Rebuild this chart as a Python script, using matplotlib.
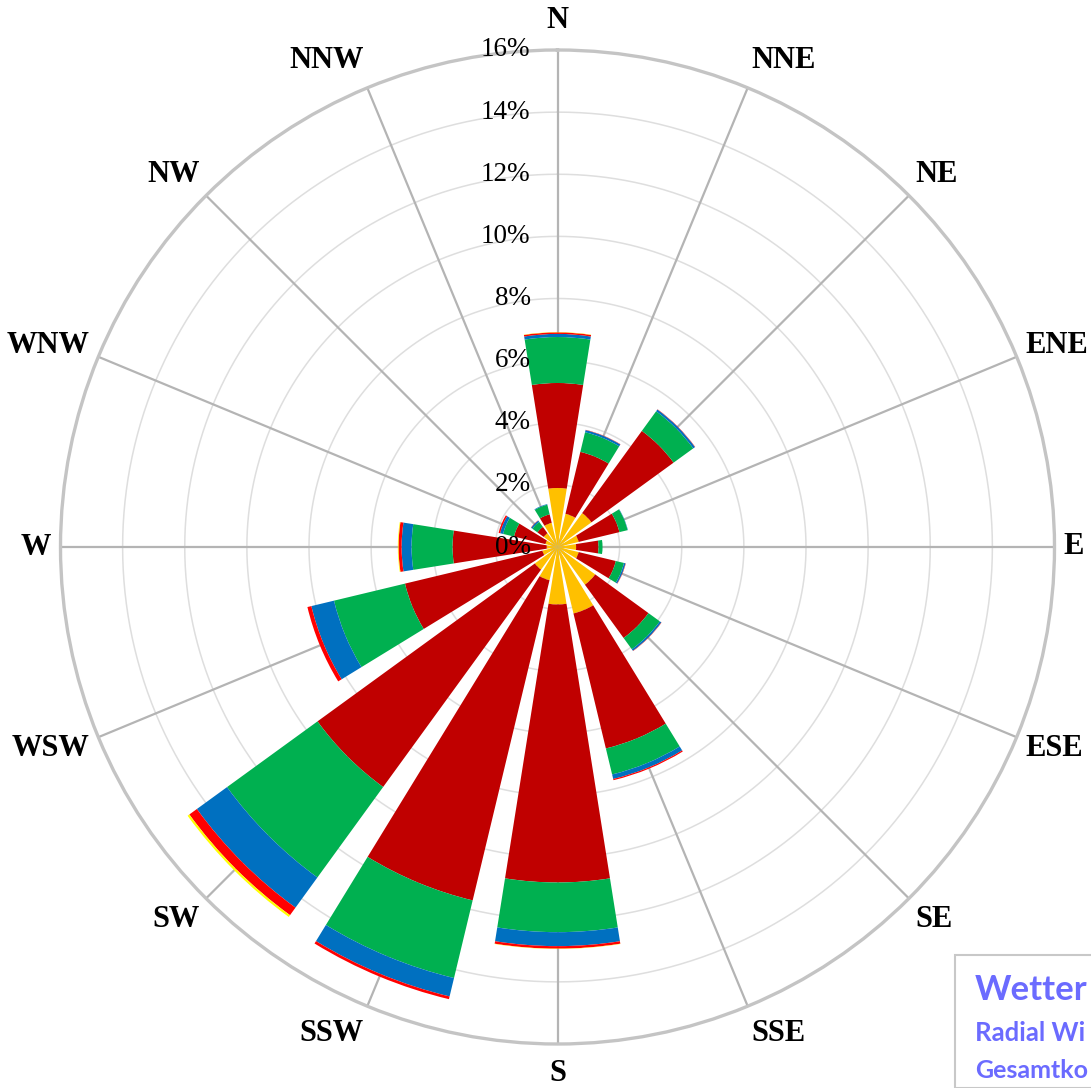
import numpy as np
import matplotlib
matplotlib.use("Agg")
import matplotlib.pyplot as plt
from matplotlib.patches import Rectangle
import matplotlib.transforms as mtransforms

# ---------------- data ----------------
directions = ["N", "NNE", "NE", "ENE", "E", "ESE", "SE", "SSE",
              "S", "SSW", "SW", "WSW", "W", "WNW", "NW", "NNW"]

# stacked segment values (percent) per direction, inner -> outer
seg_orange = [1.90, 1.10, 1.35, 0.70, 0.60, 0.70, 1.50, 2.20,
              1.85, 1.10, 0.90, 0.50, 0.35, 0.40, 0.55, 0.80]
seg_darkred = [3.38, 2.05, 3.27, 1.35, 0.72, 1.23, 2.12, 4.47,
               8.95, 10.60, 8.65, 4.55, 3.03, 1.04, 0.25, 0.28]
seg_green = [1.48, 0.65, 0.78, 0.27, 0.13, 0.27, 0.45, 0.86,
             1.60, 2.57, 3.60, 2.35, 1.32, 0.36, 0.20, 0.32]
seg_blue = [0.10, 0.07, 0.07, 0.01, 0.00, 0.05, 0.06, 0.15,
            0.45, 0.61, 1.20, 0.75, 0.32, 0.10, 0.05, 0.02]
seg_red = [0.05, 0.01, 0.01, 0.00, 0.00, 0.01, 0.01, 0.04,
           0.08, 0.09, 0.30, 0.13, 0.10, 0.05, 0.01, 0.00]
seg_yellow = [0.01, 0.00, 0.00, 0.00, 0.00, 0.00, 0.00, 0.00,
              0.01, 0.00, 0.07, 0.00, 0.02, 0.00, 0.00, 0.00]

r_ticks = [0, 2, 4, 6, 8, 10, 12, 14, 16]
r_tick_labels = ["0%", "2%", "4%", "6%", "8%", "10%", "12%", "14%", "16%"]

legend_lines = ["Wetter", "Radial Wi", "Gesamtko"]

# ---------------- figure ----------------
W, H, DPI = 1091, 1088, 100
fig = plt.figure(figsize=(W / DPI, H / DPI), dpi=DPI)
fig.patch.set_facecolor("white")

cx, cy, R = 557.5, 547.0, 497.0  # pixel geometry of the polar plot
ax = fig.add_axes([(cx - R) / W, (H - cy - R) / H, 2 * R / W, 2 * R / H],
                  projection="polar")
ax.set_theta_zero_location("N")
ax.set_theta_direction(-1)
ax.set_ylim(0, 16)
ax.set_xticks([])
ax.set_yticks([])
ax.grid(False)
ax.set_facecolor("white")
ax.spines["polar"].set_color("#C4C4C4")
ax.spines["polar"].set_linewidth(2.4)

thetas = np.deg2rad(np.arange(len(directions)) * 22.5)

# rings
circ = np.linspace(0, 2 * np.pi, 721)
for r in r_ticks[1:-1]:
    ax.plot(circ, np.full_like(circ, r), color="#DEDEDE", lw=1.1, zorder=0.5)
# spokes
for t in thetas:
    ax.plot([t, t], [0, 16], color="#B4B4B4", lw=1.6, zorder=0.6)

# stacked bars
series = [seg_orange, seg_darkred, seg_green, seg_blue, seg_red, seg_yellow]
colors = ["#FFC000", "#C00000", "#00B050", "#0070C0", "#FF0000", "#FFFF00"]
bottom = np.zeros(len(directions))
width = np.deg2rad(18.0)
for vals, col in zip(series, colors):
    vals = np.asarray(vals)
    ax.bar(thetas, vals, width=width, bottom=bottom, color=col,
           edgecolor="none", linewidth=0, zorder=2, align="center")
    bottom = bottom + vals

# radial labels along the N spoke
tr = mtransforms.offset_copy(ax.transData, fig=fig, x=-27, y=0, units="dots")
for r, lab in zip(r_ticks, r_tick_labels):
    ax.text(0, r, lab, transform=tr, ha="right", va="center",
            fontsize=19.5, family="Liberation Serif", color="#000000",
            zorder=5)

# direction labels: anchored just outside the outer circle
r_lab = 16.3
for t, name in zip(thetas, directions):
    s, c = np.sin(t), np.cos(t)
    if abs(s) < 1e-6:
        ha = "center"
    elif s > 0:
        ha = "left"
    else:
        ha = "right"
    dy = 20 * c
    trl = mtransforms.offset_copy(ax.transData, fig=fig, x=0, y=dy,
                                  units="dots")
    ax.text(t, r_lab, name, transform=trl, ha=ha, va="center", fontsize=22,
            family="Liberation Serif", fontweight="bold", color="#000000",
            clip_on=False)

# partially visible title box in the bottom right corner
box = Rectangle((955 / W, 0), (W - 955 + 20) / W, (H - 955) / H,
                transform=fig.transFigure, facecolor="white",
                edgecolor="#C8C8C8", lw=1.5, zorder=10)
fig.patches.append(box)
fig.text(975 / W, 1 - 990 / H, legend_lines[0], ha="left", va="center",
         fontsize=25, fontweight="bold", family="Lato", color="#6B6BFF",
         zorder=11)
fig.text(975 / W, 1 - 1033 / H, legend_lines[1], ha="left", va="center",
         fontsize=18.5, fontweight="bold", family="Lato", color="#6B6BFF",
         zorder=11)
fig.text(975 / W, 1 - 1071 / H, legend_lines[2], ha="left", va="center",
         fontsize=18, fontweight="bold", family="Lato", color="#6B6BFF",
         zorder=11)

fig.savefig("out.png", dpi=DPI, facecolor="white")
